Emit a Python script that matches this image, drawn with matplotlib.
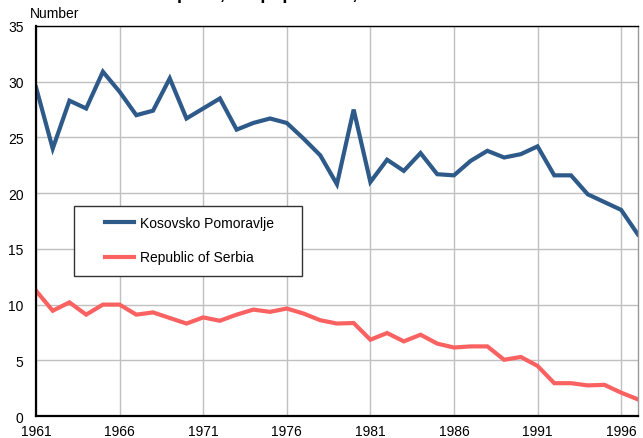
import matplotlib

matplotlib.use("Agg")
import matplotlib.pyplot as plt  # noqa: E402
from matplotlib.patches import Rectangle  # noqa: E402

plt.rcParams["font.family"] = ["Liberation Sans", "DejaVu Sans"]

years = list(range(1961, 1998))
kosovsko = [29.5, 24.0, 28.3, 27.6, 30.9, 29.1, 27.0, 27.4, 30.3, 26.7,
            27.6, 28.5, 25.7, 26.3, 26.7, 26.3, 24.9, 23.4, 20.8, 27.5,
            21.0, 23.0, 22.0, 23.6, 21.7, 21.6, 22.9, 23.8, 23.2, 23.5,
            24.2, 21.6, 21.6, 19.9, 19.2, 18.5, 16.3]
serbia = [11.25, 9.45, 10.2, 9.1, 10.0, 10.0, 9.1, 9.3, 8.8, 8.3,
          8.85, 8.55, 9.1, 9.55, 9.35, 9.65, 9.2, 8.6, 8.3, 8.35,
          6.85, 7.45, 6.7, 7.3, 6.5, 6.15, 6.25, 6.25, 5.05, 5.3,
          4.5, 2.95, 2.95, 2.75, 2.8, 2.1, 1.5]
xticks = [1961, 1966, 1971, 1976, 1981, 1986, 1991, 1996]
yticks = [0, 5, 10, 15, 20, 25, 30, 35]

fig = plt.figure(figsize=(6.43, 4.39), dpi=100)
ax = fig.add_axes([0.056, 0.050, 0.936, 0.8885])

ax.plot(years, kosovsko, color="#2E5A8A", linewidth=3.0,
        label="Kosovsko Pomoravlje", solid_joinstyle="miter")
ax.plot(years, serbia, color="#FA6262", linewidth=3.0,
        label="Republic of Serbia", solid_joinstyle="miter")

ax.set_xlim(1961, 1997)
ax.set_ylim(0, 35)
ax.set_xticks(xticks)
ax.set_yticks(yticks)
ax.tick_params(length=0, labelsize=10)
ax.tick_params(axis="x", pad=5.5)
ax.tick_params(axis="y", pad=9)
ax.grid(True, color="#c0c0c0", linewidth=1.0)
ax.set_axisbelow(True)
for s in ax.spines.values():
    s.set_color("black")
    s.set_linewidth(1.0)
ax.spines["right"].set_color("#999999")
for s in ("left", "bottom"):
    ax.spines[s].set_linewidth(1.6)

# legend box drawn separately so it can be wider than its content
ax.add_patch(Rectangle((0.0631, 0.359), 0.3787, 0.1795, transform=ax.transAxes,
                       facecolor="white", edgecolor="#333333", linewidth=1.0,
                       zorder=4))
leg = ax.legend(loc="upper left", bbox_to_anchor=(0.1146, 0.512),
                fontsize=10, frameon=False, handlelength=2.1,
                handletextpad=0.45, labelspacing=1.45,
                borderpad=0, borderaxespad=0)
leg.set_zorder(5)

fig.text(0.047, 0.968, "Number", fontsize=10, va="center")
fig.text(0.05, 1 + 1.0 / 439, "Natural increase per 1,000 population, 1961-1997",
         fontsize=13, fontweight="bold", va="baseline")

fig.savefig("out.png", dpi=100)
